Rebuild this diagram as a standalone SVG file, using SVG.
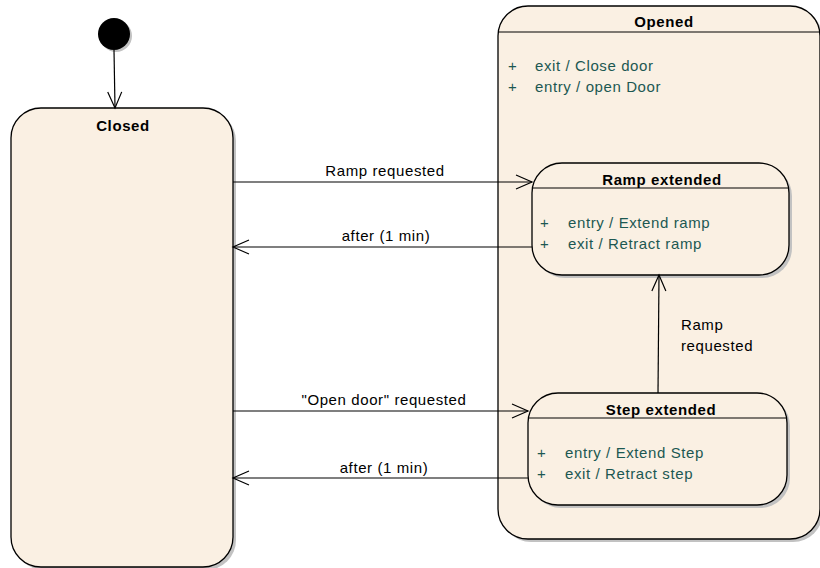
<svg xmlns="http://www.w3.org/2000/svg" width="820" height="568" viewBox="0 0 820 568">
<defs>
<style>
.node{fill:#FAF0E3;stroke:#000;stroke-width:1.3}
.shadow{fill:#C2C2C2}
.title{font-family:"Liberation Sans",Arial,sans-serif;font-size:15px;letter-spacing:0.6px;font-weight:bold;fill:#000;text-anchor:middle}
.op{font-family:"Liberation Sans",Arial,sans-serif;font-size:15px;letter-spacing:0.6px;fill:#1C5852}
.lbl{font-family:"Liberation Sans",Arial,sans-serif;font-size:15px;letter-spacing:0.6px;fill:#000}
.mid{text-anchor:middle}
.conn{stroke:#000;stroke-width:1.2;fill:none}
.hd{stroke:#000;stroke-width:1.2}
</style>
<marker id="arr" markerWidth="20" markerHeight="16" refX="18" refY="8" orient="auto" markerUnits="userSpaceOnUse">
<path d="M2,1 L18,8 L2,15" fill="none" stroke="#000" stroke-width="1.2"/>
</marker>
</defs>
<rect width="820" height="568" fill="#fff"/>

<g id="initial">
<circle cx="116" cy="36" r="16" class="shadow"/>
<circle cx="114" cy="34" r="16" fill="#000"/>
</g>

<g id="closed">
<rect x="14" y="111" width="222" height="459" rx="30" class="shadow"/>
<rect x="11" y="108" width="222" height="459" rx="30" class="node"/>
<text x="123" y="131" class="title">Closed</text>
</g>

<g id="opened">
<rect x="501" y="9" width="322" height="533" rx="30" class="shadow"/>
<rect x="498" y="6" width="322" height="533" rx="30" class="node"/>
<line x1="498" y1="32" x2="820" y2="32" class="hd"/>
<text x="664" y="27" class="title">Opened</text>
<text x="508" y="71" class="op">+</text>
<text x="535" y="71" class="op">exit / Close door</text>
<text x="508" y="92" class="op">+</text>
<text x="535" y="92" class="op">entry / open Door</text>
</g>

<g id="ramp">
<rect x="535" y="166" width="257" height="112" rx="30" class="shadow"/>
<rect x="532" y="163" width="257" height="112" rx="30" class="node"/>
<line x1="532" y1="188" x2="789" y2="188" class="hd"/>
<text x="662" y="185" class="title">Ramp extended</text>
<text x="540" y="228" class="op">+</text>
<text x="568" y="228" class="op">entry / Extend ramp</text>
<text x="540" y="249" class="op">+</text>
<text x="568" y="249" class="op">exit / Retract ramp</text>
</g>

<g id="step">
<rect x="531" y="396" width="259" height="112" rx="30" class="shadow"/>
<rect x="528" y="393" width="259" height="112" rx="30" class="node"/>
<line x1="528" y1="418" x2="787" y2="418" class="hd"/>
<text x="661" y="415" class="title">Step extended</text>
<text x="537" y="458" class="op">+</text>
<text x="565" y="458" class="op">entry / Extend Step</text>
<text x="537" y="479" class="op">+</text>
<text x="565" y="479" class="op">exit / Retract step</text>
</g>

<g id="connectors">
<line x1="114" y1="50" x2="115" y2="108" class="conn" marker-end="url(#arr)"/>
<line x1="233" y1="182" x2="532" y2="182" class="conn" marker-end="url(#arr)"/>
<text x="385" y="176" class="lbl mid">Ramp requested</text>
<line x1="532" y1="247" x2="233" y2="247" class="conn" marker-end="url(#arr)"/>
<text x="386" y="241" class="lbl mid">after (1 min)</text>
<line x1="233" y1="411" x2="528" y2="411" class="conn" marker-end="url(#arr)"/>
<text x="384" y="405" class="lbl mid">"Open door" requested</text>
<line x1="528" y1="478" x2="233" y2="478" class="conn" marker-end="url(#arr)"/>
<text x="384" y="473" class="lbl mid">after (1 min)</text>
<line x1="658" y1="393" x2="659" y2="275" class="conn" marker-end="url(#arr)"/>
<text x="681" y="330" class="lbl">Ramp</text>
<text x="681" y="351" class="lbl">requested</text>
</g>
</svg>
